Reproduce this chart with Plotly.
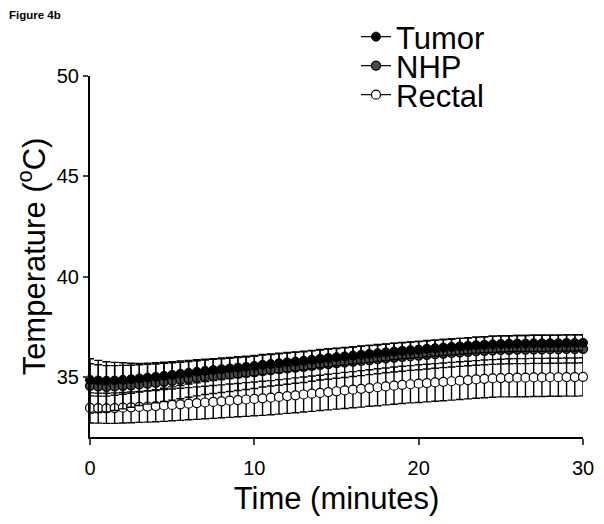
import plotly.graph_objects as go

time_min = [i * 0.5 for i in range(61)]

tumor_mean = [34.85, 34.82, 34.80, 34.82, 34.85, 34.88, 34.92,
              34.96, 35.00, 35.05, 35.10, 35.15, 35.20, 35.25, 35.30,
              35.34, 35.38, 35.42, 35.46, 35.50, 35.54,
              35.60, 35.64, 35.68, 35.72, 35.76, 35.80, 35.85, 35.90,
              35.94, 35.98, 36.02, 36.06, 36.10, 36.14, 36.18,
              36.22, 36.26, 36.30, 36.33, 36.36, 36.40, 36.43,
              36.46, 36.49, 36.52, 36.55, 36.58, 36.60, 36.62, 36.64,
              36.65, 36.66, 36.66, 36.67, 36.67, 36.68, 36.68, 36.69, 36.69, 36.70]
tumor_sd = [0.80, 0.78, 0.76, 0.74, 0.72, 0.70, 0.68,
            0.66, 0.64, 0.62, 0.60, 0.58, 0.56, 0.55, 0.54,
            0.53, 0.52, 0.51, 0.50, 0.49, 0.48,
            0.48, 0.47, 0.47, 0.46, 0.46, 0.45, 0.45, 0.44,
            0.44, 0.43, 0.43, 0.42, 0.42, 0.42, 0.41,
            0.41, 0.41, 0.40, 0.40, 0.40, 0.40, 0.40,
            0.40, 0.40, 0.40, 0.40, 0.40, 0.40, 0.40, 0.40,
            0.40, 0.40, 0.40, 0.40, 0.40, 0.40, 0.40, 0.40, 0.40, 0.40]

nhp_mean = [34.55, 34.52, 34.50, 34.52, 34.55, 34.58, 34.62,
            34.66, 34.70, 34.75, 34.80, 34.85, 34.90, 34.95, 35.00,
            35.04, 35.08, 35.12, 35.16, 35.20, 35.24,
            35.30, 35.34, 35.38, 35.42, 35.46, 35.50, 35.55, 35.60,
            35.64, 35.68, 35.72, 35.76, 35.80, 35.84, 35.88,
            35.92, 35.96, 36.00, 36.03, 36.06, 36.10, 36.13,
            36.16, 36.19, 36.22, 36.25, 36.28, 36.30, 36.32, 36.34,
            36.35, 36.36, 36.36, 36.37, 36.37, 36.38, 36.38, 36.39, 36.39, 36.40]
nhp_sd = [1.35, 1.30, 1.25, 1.20, 1.15, 1.10, 1.05,
          1.02, 1.00, 0.98, 0.96, 0.94, 0.92, 0.90, 0.88,
          0.87, 0.86, 0.85, 0.84, 0.83, 0.82,
          0.81, 0.80, 0.80, 0.79, 0.78, 0.78, 0.77, 0.76,
          0.76, 0.75, 0.75, 0.74, 0.74, 0.73, 0.73,
          0.72, 0.72, 0.72, 0.71, 0.71, 0.71, 0.70,
          0.70, 0.70, 0.70, 0.70, 0.70, 0.70, 0.70, 0.70,
          0.70, 0.70, 0.70, 0.70, 0.70, 0.70, 0.70, 0.70, 0.70, 0.70]

rectal_mean = [33.45, 33.44, 33.43, 33.44, 33.46, 33.48, 33.50,
               33.52, 33.54, 33.57, 33.60, 33.63, 33.66, 33.69, 33.72,
               33.75, 33.78, 33.81, 33.84, 33.87, 33.90,
               33.93, 33.96, 34.00, 34.04, 34.08, 34.12, 34.16, 34.20,
               34.24, 34.28, 34.32, 34.36, 34.40, 34.44, 34.48,
               34.52, 34.56, 34.60, 34.63, 34.66, 34.69, 34.72,
               34.75, 34.78, 34.81, 34.84, 34.87, 34.90, 34.92, 34.94,
               34.95, 34.96, 34.96, 34.97, 34.97, 34.98, 34.98, 34.99, 34.99, 35.00]
rectal_sd = [0.75, 0.75, 0.75, 0.76, 0.76, 0.77, 0.77,
             0.78, 0.78, 0.79, 0.79, 0.80, 0.80, 0.81, 0.81,
             0.82, 0.82, 0.83, 0.83, 0.84, 0.84,
             0.85, 0.85, 0.86, 0.86, 0.87, 0.87, 0.88, 0.88,
             0.89, 0.89, 0.90, 0.90, 0.91, 0.91, 0.92,
             0.92, 0.93, 0.93, 0.93, 0.94, 0.94, 0.94,
             0.94, 0.94, 0.94, 0.94, 0.94, 0.94, 0.94, 0.94,
             0.95, 0.95, 0.95, 0.95, 0.95, 0.95, 0.95, 0.95, 0.95, 0.95]

series_names = ["Tumor", "NHP", "Rectal"]
x_ticks = [0, 10, 20, 30]
y_ticks = [35, 40, 45, 50]

FONT = "Liberation Sans, Arial, sans-serif"
# page body has an 8px margin, so the figure is drawn 8px smaller and
# all container positions are expressed relative to that offset
OFF = 8
W, H = 604 - OFF, 524 - OFF
PLOT_L, PLOT_R, PLOT_T, PLOT_B = 90 - OFF, 583 - OFF, 76 - OFF, 437 - OFF
PW, PH = PLOT_R - PLOT_L, PLOT_B - PLOT_T

fig = go.Figure()

marker_styles = {
    "Tumor": dict(color="black", line=dict(color="black", width=1)),
    "NHP": dict(color="#4a4a4a", line=dict(color="black", width=1.3)),
    "Rectal": dict(color="white", line=dict(color="black", width=1.2)),
}
series_data = {
    "Tumor": (tumor_mean, tumor_sd),
    "NHP": (nhp_mean, nhp_sd),
    "Rectal": (rectal_mean, rectal_sd),
}
legend_ids = {"Tumor": "legend", "NHP": "legend2", "Rectal": "legend3"}
legend_rows_px = {"Tumor": 37, "NHP": 66, "Rectal": 95}

for name in ["Rectal", "NHP", "Tumor"]:
    m, sd = series_data[name]
    fig.add_trace(go.Scatter(
        x=time_min, y=m, name=name, mode="lines+markers",
        line=dict(color="black", width=1.2),
        marker=dict(symbol="circle", size=9, **marker_styles[name]),
        error_y=dict(type="data", array=sd, visible=True,
                     color="black", thickness=1.4, width=4),
        cliponaxis=False, legend=legend_ids[name],
    ))

legend_common = dict(xref="container", yref="container", xanchor="left", yanchor="middle",
                     font=dict(size=31, family=FONT), bgcolor="rgba(0,0,0,0)",
                     itemwidth=30, borderwidth=0)
layout_legends = {}
for name in series_names:
    layout_legends[legend_ids[name]] = dict(
        x=(356 - OFF) / W, y=1 - (legend_rows_px[name] - OFF) / H, **legend_common)

fig.update_layout(
    width=W, height=H,
    paper_bgcolor="white", plot_bgcolor="white",
    margin=dict(l=PLOT_L, r=W - PLOT_R, t=PLOT_T, b=H - PLOT_B, autoexpand=False),
    font=dict(family=FONT, color="black"),
    showlegend=True,
    annotations=[dict(text="<b>Figure 4b</b>",
                      x=(0 - PLOT_L) / PW, y=1 + PLOT_T / PH,
                      xref="paper", yref="paper", xanchor="left", yanchor="top",
                      borderpad=0, showarrow=False, font=dict(size=11.5, family=FONT))],
    **layout_legends,
)

fig.update_xaxes(
    range=[0, 30], tickvals=x_ticks, ticks="outside", ticklen=6, tickwidth=2,
    showline=True, linecolor="black", linewidth=2, showgrid=False, zeroline=False,
    tickfont=dict(size=20, family=FONT), automargin=False, ticklabelstandoff=6,
    title=dict(text="Time (minutes)", font=dict(size=31, family=FONT), standoff=9),
)
fig.update_yaxes(
    range=[32, 50], tickvals=y_ticks, ticks="outside", ticklen=5, tickwidth=2,
    showline=True, linecolor="black", linewidth=2, showgrid=False, zeroline=False,
    tickfont=dict(size=20, family=FONT), automargin=False,
    title=dict(text="Temperature (<sup>o</sup>C)", font=dict(size=31, family=FONT), standoff=2),
)

fig.write_html("out.html")
